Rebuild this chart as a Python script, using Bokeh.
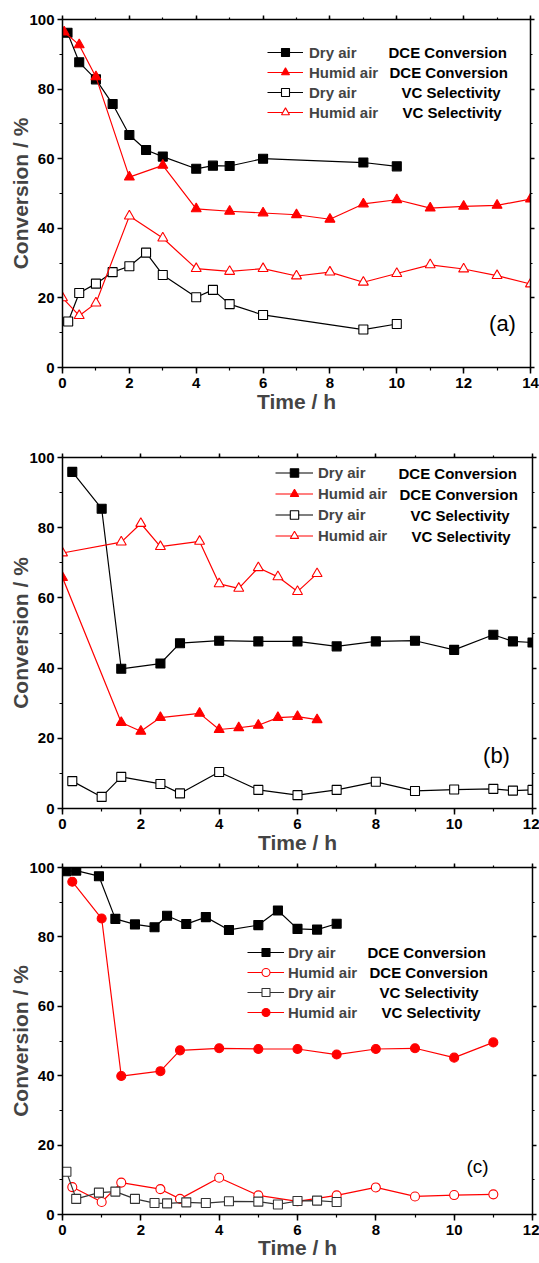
from bokeh.plotting import figure
from bokeh.layouts import column
from bokeh.models import Range1d, LinearAxis, SingleIntervalTicker, Legend, LegendItem, Label
from bokeh.embed import file_html
from bokeh.resources import INLINE

FONT = "Liberation Sans"
RED = "#ff0000"
BLACK = "#000000"

# ---------------- data: panel (a) ----------------
a_dry_dce_t = [0.15, 0.5, 1, 1.5, 2, 2.5, 3, 4, 4.5, 5, 6, 9, 10]
a_dry_dce = [96.2, 87.7, 82.8, 75.7, 66.8, 62.5, 60.6, 57.1, 58.0, 57.9, 60.0, 58.9, 57.8]
a_hum_dce_t = [0.05, 0.5, 1, 2, 3, 4, 5, 6, 7, 8, 9, 10, 11, 12, 13, 14]
a_hum_dce = [96.4, 92.7, 83.5, 54.7, 58.1, 45.6, 44.9, 44.4, 43.9, 42.6, 47.0, 48.2, 45.8, 46.3, 46.6, 48.4]
a_dry_vc_t = [0.17, 0.5, 1, 1.5, 2, 2.5, 3, 4, 4.5, 5, 6, 9, 10]
a_dry_vc = [13.2, 21.4, 24.1, 27.4, 29.1, 33.0, 26.6, 20.2, 22.3, 18.2, 15.1, 10.9, 12.5]
a_hum_vc_t = [0, 0.5, 1, 2, 3, 4, 5, 6, 7, 8, 9, 10, 11, 12, 13, 14]
a_hum_vc = [20.0, 14.9, 18.5, 43.5, 37.2, 28.4, 27.6, 28.4, 26.3, 27.4, 24.5, 27.0, 29.5, 28.3, 26.4, 24.0]

# ---------------- data: panel (b) ----------------
b_dry_dce_t = [0.25, 1, 1.5, 2.5, 3, 4, 5, 6, 7, 8, 9, 10, 11, 11.5, 12]
b_dry_dce = [95.9, 85.4, 39.8, 41.3, 47.1, 47.8, 47.6, 47.6, 46.2, 47.6, 47.8, 45.2, 49.5, 47.6, 47.3]
b_hum_dce_t = [0, 1.5, 2, 2.5, 3.5, 4, 4.5, 5, 5.5, 6, 6.5]
b_hum_dce = [65.8, 24.5, 22.0, 25.9, 27.1, 22.5, 23.0, 23.7, 25.9, 26.2, 25.3]
b_dry_vc_t = [0.25, 1, 1.5, 2.5, 3, 4, 5, 6, 7, 8, 9, 10, 11, 11.5, 12]
b_dry_vc = [7.8, 3.3, 9.0, 7.0, 4.3, 10.4, 5.3, 3.8, 5.3, 7.6, 5.0, 5.4, 5.6, 5.1, 5.3]
b_hum_vc_t = [0, 1.5, 2, 2.5, 3.5, 4, 4.5, 5, 5.5, 6, 6.5]
b_hum_vc = [72.8, 75.9, 81.2, 74.6, 76.1, 64.0, 62.7, 68.6, 66.0, 61.8, 66.9]

# ---------------- data: panel (c) ----------------
c_dry_dce_t = [0.1, 0.35, 0.93, 1.35, 1.85, 2.35, 2.67, 3.16, 3.66, 4.25, 5.0, 5.5, 6.0, 6.5, 7.0]
c_dry_dce = [98.9, 99.1, 97.5, 85.2, 83.6, 82.8, 86.1, 83.7, 85.7, 82.0, 83.4, 87.6, 82.3, 82.1, 83.8]
c_hum_dce_t = [0.25, 1, 1.5, 2.5, 3, 4, 5, 6, 7, 8, 9, 10, 11]
c_hum_dce = [7.9, 3.6, 9.2, 7.3, 4.5, 10.6, 5.5, 3.8, 5.5, 7.8, 5.2, 5.6, 5.8]
c_dry_vc_t = [0.1, 0.35, 0.93, 1.35, 1.85, 2.35, 2.67, 3.16, 3.66, 4.25, 5.0, 5.5, 6.0, 6.5, 7.0]
c_dry_vc = [12.3, 4.5, 6.3, 6.6, 4.5, 3.3, 3.2, 3.5, 3.3, 3.8, 3.7, 2.9, 3.9, 4.0, 3.6]
c_hum_vc_t = [0.25, 1, 1.5, 2.5, 3, 4, 5, 6, 7, 8, 9, 10, 11]
c_hum_vc = [95.9, 85.3, 39.9, 41.3, 47.3, 47.9, 47.7, 47.7, 46.1, 47.7, 47.9, 45.2, 49.6]

legend_names = ["Dry air", "Humid air", "Dry air", "Humid air"]
legend_kinds = ["DCE Conversion", "DCE Conversion", "VC Selectivity", "VC Selectivity"]
x_label = "Time / h"
y_label = "Conversion / %"


def style_axis(ax, tick_out, minor_out, show_labels=True):
    ax.axis_line_width = 1.5
    ax.axis_line_color = BLACK
    ax.major_tick_line_width = 1.5
    ax.minor_tick_line_width = 1.2
    ax.major_tick_in = 0
    ax.minor_tick_in = 0
    ax.major_tick_out = tick_out
    ax.minor_tick_out = minor_out
    if show_labels:
        ax.major_label_text_font = FONT
        ax.major_label_text_font_style = "bold"
        ax.major_label_text_font_size = "15px"
        ax.major_label_text_color = BLACK
    else:
        ax.major_label_text_font_size = "0px"
        ax.major_label_text_color = None
        ax.major_label_standoff = 0


def make_panel(series, xmax, xstep, borders, frame, leg, col2_x, tag, xlab_standoff):
    left, right, top, bottom = borders
    fw, fh = frame
    p = figure(frame_width=fw, frame_height=fh, x_range=Range1d(0, xmax), y_range=Range1d(0, 100),
               output_backend="svg", toolbar_location=None,
               min_border_left=left, min_border_right=right, min_border_top=top, min_border_bottom=bottom)
    p.xgrid.visible = False
    p.ygrid.visible = False
    p.outline_line_color = None
    p.background_fill_color = "white"
    p.border_fill_color = "white"

    p.xaxis.ticker = SingleIntervalTicker(interval=xstep, num_minor_ticks=2)
    p.yaxis.ticker = SingleIntervalTicker(interval=20, num_minor_ticks=2)
    for ax in p.xaxis:
        style_axis(ax, 6, 3)
        ax.major_label_standoff = 4
        ax.axis_label = x_label
        ax.axis_label_text_font = FONT
        ax.axis_label_text_font_style = "bold"
        ax.axis_label_text_font_size = "21px"
        ax.axis_label_standoff = xlab_standoff
    for ax in p.yaxis:
        style_axis(ax, 5, 3)
        ax.major_label_standoff = 3
        ax.axis_label = y_label
        ax.axis_label_text_font = FONT
        ax.axis_label_text_font_style = "bold"
        ax.axis_label_text_font_size = "21px"
        ax.axis_label_standoff = -6
    top_ax = LinearAxis(ticker=SingleIntervalTicker(interval=xstep, num_minor_ticks=2))
    style_axis(top_ax, 4, 2, show_labels=False)
    p.add_layout(top_ax, "above")
    right_ax = LinearAxis(ticker=SingleIntervalTicker(interval=20, num_minor_ticks=2))
    style_axis(right_ax, 4, 2, show_labels=False)
    p.add_layout(right_ax, "right")

    items = []
    for (t, y, color, marker, fill, size, name) in series:
        lr = p.line(t, y, line_color=color, line_width=1.2)
        sr = p.scatter(t, y, marker=marker, size=size, fill_color=fill, line_color=color, line_width=1.1)
        items.append(LegendItem(label=name, renderers=[lr, sr]))

    lx, top_off, pitch, gw, standoff = leg
    ly = fh - top_off - 4 * pitch
    legend = Legend(items=items, location=(lx, ly), glyph_width=gw, glyph_height=pitch,
                    label_height=pitch, spacing=0, padding=0, margin=0, label_standoff=standoff,
                    label_text_font=FONT, label_text_font_style="bold", label_text_font_size="15px",
                    border_line_color=None, background_fill_alpha=0)
    p.add_layout(legend)
    for i, (kind, cx) in enumerate(zip(legend_kinds, col2_x)):
        cy = fh - top_off - pitch * (i + 0.5)
        p.add_layout(Label(x=cx, y=cy, x_units="screen", y_units="screen", text=kind,
                           text_baseline="middle", text_align="left", text_font=FONT,
                           text_font_style="bold", text_font_size="15px", text_color=BLACK))
    ttext, tx, ty, tsize = tag
    p.add_layout(Label(x=tx, y=ty, x_units="screen", y_units="screen", text=ttext,
                       text_baseline="middle", text_align="center", text_font=FONT,
                       text_font_size=tsize, text_color=BLACK))
    return p


series_a = [
    (a_dry_dce_t, a_dry_dce, BLACK, "square", BLACK, 9, legend_names[0]),
    (a_hum_dce_t, a_hum_dce, RED, "triangle", RED, 10, legend_names[1]),
    (a_dry_vc_t, a_dry_vc, BLACK, "square", "white", 9, legend_names[2]),
    (a_hum_vc_t, a_hum_vc, RED, "triangle", "white", 10, legend_names[3]),
]
series_b = [
    (b_dry_dce_t, b_dry_dce, BLACK, "square", BLACK, 9, legend_names[0]),
    (b_hum_dce_t, b_hum_dce, RED, "triangle", RED, 10, legend_names[1]),
    (b_dry_vc_t, b_dry_vc, BLACK, "square", "white", 9, legend_names[2]),
    (b_hum_vc_t, b_hum_vc, RED, "triangle", "white", 10, legend_names[3]),
]
series_c = [
    (c_dry_dce_t, c_dry_dce, BLACK, "square", BLACK, 9, legend_names[0]),
    (c_hum_dce_t, c_hum_dce, RED, "circle", "white", 9, legend_names[1]),
    (c_dry_vc_t, c_dry_vc, "#333333", "square", "white", 9, legend_names[2]),
    (c_hum_vc_t, c_hum_vc, RED, "circle", RED, 9, legend_names[3]),
]

pa = make_panel(series_a, 14, 2, (62, 9, 19, 63), (468, 348),
                (205, 23, 20, 36, 6), (326, 327, 339, 340), ("(a)", 440, 44, "22px"), -1)
pb = make_panel(series_b, 12, 2, (60, 9, 27, 50), (470, 351),
                (213, 5, 21, 38, 5), (336, 337, 348, 349), ("(b)", 434, 53, "22px"), -1)
pc = make_panel(series_c, 12, 2, (60, 9, 9, 49), (470, 347),
                (185, 75, 20, 37, 4), (305, 307, 317, 319), ("(c)", 415, 48, "19px"), -2)

layout = column(pa, pb, pc, spacing=0)
open("out.html", "w").write(file_html(layout, INLINE))
